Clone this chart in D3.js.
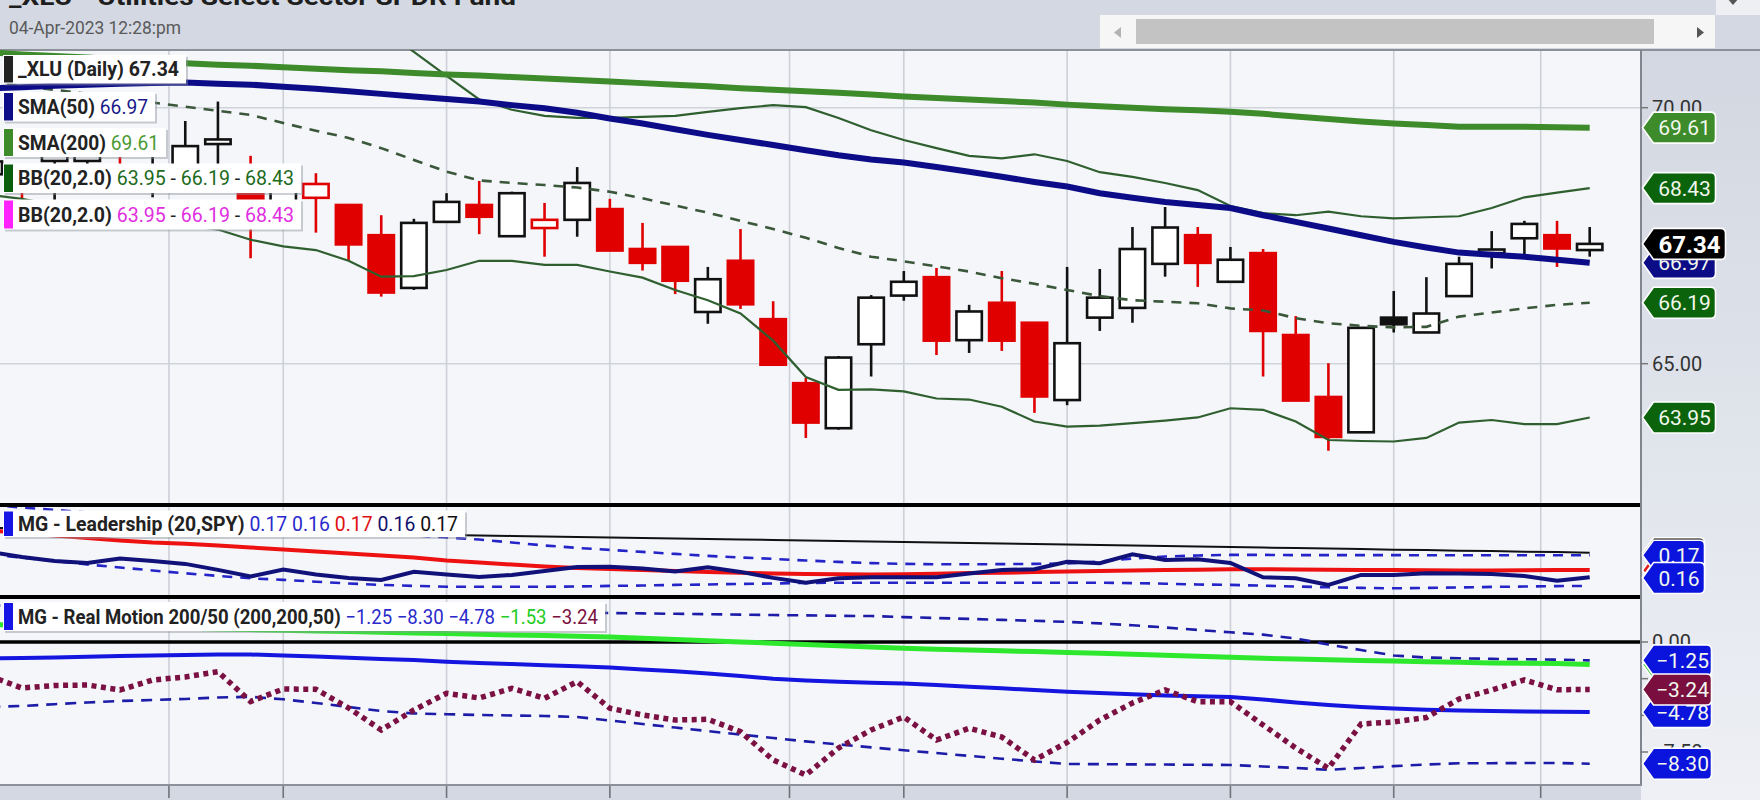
<!DOCTYPE html>
<html><head><meta charset="utf-8">
<script src="https://cdn.jsdelivr.net/npm/d3@7"></script>
<style>html,body{margin:0;padding:0;background:#d3d8e2;overflow:hidden}svg{display:block;font-family:Roboto,"Noto Sans",sans-serif}</style>
</head><body><svg id="chart" width="1760" height="800"></svg>
<script>
// ---------- data ----------
const days = ["2023-01-24","2023-01-25","2023-01-26","2023-01-27","2023-01-30","2023-01-31",
"2023-02-01","2023-02-02","2023-02-03","2023-02-06","2023-02-07","2023-02-08","2023-02-09","2023-02-10",
"2023-02-13","2023-02-14","2023-02-15","2023-02-16","2023-02-17","2023-02-21","2023-02-22","2023-02-23","2023-02-24",
"2023-02-27","2023-02-28","2023-03-01","2023-03-02","2023-03-03","2023-03-06","2023-03-07","2023-03-08","2023-03-09","2023-03-10",
"2023-03-13","2023-03-14","2023-03-15","2023-03-16","2023-03-17","2023-03-20","2023-03-21","2023-03-22","2023-03-23","2023-03-24",
"2023-03-27","2023-03-28","2023-03-29","2023-03-30","2023-03-31","2023-04-03","2023-04-04"];
const openP  = [68.70,68.85,68.96,68.96,68.85,68.45,68.75,69.29,68.55,68.00,68.24,68.10,67.51,66.48,67.77,68.10,67.49,67.65,67.81,68.02,67.24,67.28,66.01,67.01,65.87,64.62,63.74,65.38,66.33,66.69,65.46,66.19,65.80,64.29,65.90,66.09,66.95,67.51,66.60,67.16,65.56,64.35,63.66,65.90,65.61,66.32,67.16,67.45,67.51,67.22];
const highP  = [69.20,68.90,69.60,69.55,69.10,69.05,69.74,70.12,69.06,68.85,68.72,68.12,67.90,67.83,68.33,68.57,68.36,68.14,68.84,68.22,67.75,67.28,66.89,67.63,66.22,64.72,65.15,66.34,66.81,66.87,66.15,66.81,65.80,66.89,66.85,67.67,68.06,67.67,67.28,67.24,65.93,65.01,65.70,66.42,66.69,67.09,67.59,67.79,67.79,67.67];
const lowP   = [68.50,68.22,68.10,68.60,68.40,68.25,68.55,68.85,67.06,67.85,67.56,67.01,66.31,66.44,67.77,67.53,67.49,67.09,67.48,67.21,66.82,66.36,65.78,66.07,64.98,63.55,63.71,64.75,66.23,65.17,65.21,65.25,64.04,64.19,65.64,65.80,66.70,66.50,66.60,64.75,64.28,63.30,63.66,65.61,65.61,66.32,66.86,67.12,66.89,67.09];
const closeP = [68.95,68.55,69.25,69.40,68.45,68.80,69.25,69.38,68.10,68.70,68.51,67.33,66.39,67.75,68.16,67.87,68.33,67.81,68.53,67.21,66.97,66.62,66.65,66.16,64.98,63.85,65.12,66.29,66.60,65.45,66.02,65.45,64.36,65.40,66.29,67.24,67.66,66.97,67.03,65.64,64.28,63.57,65.70,65.77,65.98,66.95,67.23,67.73,67.25,67.34];
const sma50  = [70.38,70.40,70.43,70.45,70.47,70.48,70.49,70.47,70.45,70.41,70.37,70.32,70.27,70.22,70.17,70.12,70.05,69.99,69.90,69.79,69.69,69.58,69.47,69.37,69.27,69.17,69.07,68.99,68.93,68.84,68.75,68.65,68.55,68.46,68.33,68.24,68.16,68.10,68.04,67.90,67.77,67.64,67.51,67.38,67.27,67.17,67.13,67.09,67.03,66.97];
const sma200 = [71.08,71.04,71.01,70.98,70.94,70.91,70.87,70.84,70.82,70.79,70.76,70.73,70.71,70.68,70.65,70.63,70.60,70.57,70.54,70.51,70.48,70.45,70.42,70.38,70.35,70.32,70.29,70.26,70.22,70.19,70.16,70.13,70.10,70.06,70.03,70.00,69.97,69.95,69.92,69.88,69.83,69.78,69.73,69.69,69.66,69.63,69.63,69.63,69.62,69.61];
const bbUpper = [72.70,72.63,72.60,72.54,72.50,72.39,72.33,72.28,72.26,72.20,72.12,71.98,71.55,71.09,70.62,70.16,69.96,69.84,69.80,69.80,69.82,69.84,69.92,69.99,70.05,70.01,69.80,69.56,69.37,69.21,69.06,69.01,69.09,68.96,68.74,68.65,68.53,68.39,68.08,67.94,67.90,67.97,67.88,67.84,67.86,67.88,68.04,68.25,68.34,68.43];
const bbMiddle = [70.50,70.42,70.35,70.27,70.20,70.10,70.02,69.94,69.86,69.70,69.55,69.41,69.21,68.98,68.75,68.58,68.53,68.49,68.44,68.36,68.23,68.09,67.95,67.79,67.63,67.46,67.26,67.09,67.00,66.90,66.80,66.67,66.56,66.44,66.32,66.24,66.21,66.18,66.08,66.04,65.89,65.79,65.74,65.71,65.72,65.92,66.00,66.08,66.15,66.19];
const bbLower = [68.30,68.22,68.10,68.00,67.90,67.81,67.71,67.62,67.42,67.29,67.22,67.01,66.70,66.71,66.83,67.01,67.01,66.93,66.93,66.80,66.68,66.44,66.24,65.98,65.45,64.74,64.49,64.50,64.46,64.32,64.30,64.16,63.87,63.77,63.79,63.84,63.89,63.95,64.13,64.10,63.87,63.51,63.49,63.48,63.55,63.85,63.90,63.82,63.82,63.95];
// MG - Leadership (20,SPY)
const leadLine  = [0.1749,0.1724,0.1704,0.1694,0.1716,0.1704,0.1689,0.1659,0.1626,0.1661,0.1636,0.1619,0.1609,0.1650,0.1636,0.1624,0.1634,0.1654,0.1674,0.1675,0.1666,0.1651,0.1672,0.1649,0.1619,0.1595,0.1617,0.1622,0.1622,0.1622,0.1641,0.1659,0.1662,0.1700,0.1692,0.1737,0.1709,0.1712,0.1694,0.1622,0.1617,0.1584,0.1634,0.1634,0.1642,0.1641,0.1639,0.1629,0.1605,0.1622];
const leadAvg   = [0.1856,0.1844,0.1831,0.1819,0.1806,0.1796,0.1790,0.1781,0.1771,0.1761,0.1751,0.1741,0.1731,0.1721,0.1706,0.1696,0.1686,0.1676,0.1669,0.1664,0.1659,0.1654,0.1649,0.1645,0.1641,0.1639,0.1637,0.1636,0.1637,0.1640,0.1643,0.1645,0.1648,0.1651,0.1654,0.1656,0.1659,0.1660,0.1662,0.1662,0.1661,0.1660,0.1659,0.1658,0.1657,0.1656,0.1656,0.1657,0.1658,0.1658];
const leadUpper = [0.1984,0.1971,0.1959,0.1946,0.1934,0.1924,0.1911,0.1899,0.1889,0.1876,0.1866,0.1854,0.1844,0.1832,0.1821,0.1811,0.1796,0.1781,0.1769,0.1759,0.1749,0.1739,0.1729,0.1721,0.1714,0.1706,0.1699,0.1693,0.1689,0.1687,0.1687,0.1688,0.1689,0.1691,0.1701,0.1716,0.1726,0.1731,0.1734,0.1734,0.1733,0.1733,0.1733,0.1733,0.1732,0.1732,0.1732,0.1732,0.1732,0.1732];
const leadLower = [0.1734,0.1721,0.1704,0.1686,0.1671,0.1656,0.1642,0.1629,0.1617,0.1609,0.1600,0.1591,0.1584,0.1579,0.1575,0.1575,0.1575,0.1575,0.1576,0.1579,0.1581,0.1584,0.1586,0.1589,0.1591,0.1594,0.1595,0.1595,0.1595,0.1595,0.1595,0.1595,0.1595,0.1595,0.1595,0.1593,0.1590,0.1586,0.1584,0.1580,0.1576,0.1572,0.1569,0.1567,0.1569,0.1571,0.1574,0.1576,0.1578,0.1579];
const leadRef   = [0.1869,0.1867,0.1864,0.1862,0.1859,0.1857,0.1854,0.1852,0.1849,0.1847,0.1844,0.1842,0.1839,0.1836,0.1834,0.1831,0.1829,0.1826,0.1824,0.1821,0.1819,0.1816,0.1814,0.1811,0.1809,0.1806,0.1804,0.1801,0.1798,0.1796,0.1793,0.1791,0.1788,0.1786,0.1783,0.1781,0.1778,0.1776,0.1773,0.1771,0.1768,0.1766,0.1763,0.1760,0.1758,0.1755,0.1753,0.1750,0.1748,0.1745];
// MG - Real Motion 200/50
const rmUpper = [2.488,2.454,2.433,2.406,2.379,2.352,2.324,2.297,2.270,2.249,2.222,2.195,2.168,2.140,2.113,2.086,2.059,2.031,2.004,1.977,1.950,1.922,1.895,1.868,1.841,1.813,1.786,1.769,1.697,1.636,1.575,1.506,1.445,1.370,1.270,1.140,0.990,0.820,0.660,0.500,0.240,-0.170,-0.550,-0.920,-1.060,-1.110,-1.150,-1.170,-1.200,-1.25];
const rmLower = [-4.431,-4.363,-4.240,-4.124,-4.022,-3.954,-3.885,-3.783,-3.735,-3.906,-4.158,-4.431,-4.704,-4.874,-4.922,-4.976,-5.010,-5.045,-5.113,-5.351,-5.590,-5.835,-6.074,-6.312,-6.544,-6.776,-6.980,-7.185,-7.382,-7.573,-7.764,-7.955,-8.146,-8.317,-8.330,-8.344,-8.357,-8.371,-8.384,-8.487,-8.589,-8.712,-8.589,-8.466,-8.350,-8.269,-8.262,-8.255,-8.248,-8.30];
const rmMid   = [-1.125,-1.091,-1.050,-1.009,-0.961,-0.920,-0.886,-0.845,-0.852,-0.920,-0.988,-1.070,-1.152,-1.227,-1.343,-1.431,-1.506,-1.581,-1.656,-1.738,-1.875,-1.997,-2.147,-2.318,-2.502,-2.624,-2.713,-2.781,-2.829,-2.931,-3.047,-3.156,-3.272,-3.388,-3.476,-3.565,-3.647,-3.701,-3.749,-3.920,-4.124,-4.295,-4.431,-4.533,-4.615,-4.669,-4.703,-4.738,-4.758,-4.78];
const rmGreen = [1.193,1.159,1.111,1.070,1.023,0.975,0.934,0.886,0.845,0.798,0.750,0.709,0.661,0.614,0.573,0.525,0.477,0.436,0.389,0.341,0.259,0.170,0.082,0.000,-0.082,-0.170,-0.252,-0.341,-0.430,-0.491,-0.545,-0.600,-0.654,-0.709,-0.770,-0.838,-0.907,-0.975,-1.043,-1.111,-1.159,-1.207,-1.254,-1.302,-1.343,-1.384,-1.425,-1.452,-1.472,-1.53];
const rmDot   = [-2.318,-3.136,-2.965,-2.931,-3.272,-2.590,-2.386,-2.025,-4.056,-3.204,-3.224,-4.499,-5.999,-4.635,-3.497,-3.817,-3.156,-3.838,-2.706,-4.519,-4.976,-5.317,-5.269,-6.115,-8.044,-9.066,-7.226,-5.999,-5.112,-6.680,-5.883,-6.476,-8.044,-6.851,-5.317,-4.158,-3.272,-4.070,-4.070,-5.658,-7.226,-8.609,-5.590,-5.453,-5.147,-3.885,-3.272,-2.590,-3.252,-3.24];
const priceTicks = [70, 65];
const rmTicks = [0, -2.5, -5, -7.5];
const weekLines  = ["2023-02-06","2023-02-13","2023-02-21","2023-03-06","2023-03-13","2023-03-20","2023-03-27"];
const monthLines = ["2023-02-01","2023-03-01","2023-04-03"];
const titleText = "_XLU - Utilities Select Sector SPDR Fund";
const dateText = "04-Apr-2023 12:28:pm";

// ---------- layout ----------
const svg = d3.select("#chart");
const PR = 1641, mainTop = 50, mainBot = 505, leadBot = 597, rmBot = 785;
const f2 = d3.format(".2f");
const last = a => a[a.length - 1];
const x = d3.scalePoint().domain(days).range([-10.7, 1589.7]);
const yP = d3.scaleLinear().domain([65, 70]).range([363.7, 107.7]);
const yL = d3.scaleLinear().domain([0.15235, 0.19835]).range([597, 505]);
const yR = d3.scaleLinear().domain([0, -7.5]).range([642, 752]);

const defs = svg.append("defs");
const grad = defs.append("linearGradient").attr("id","axg").attr("x1",0).attr("y1",0).attr("x2",0).attr("y2",1);
grad.append("stop").attr("offset","0").attr("stop-color","#d2d7e1");
grad.append("stop").attr("offset","1").attr("stop-color","#eef0f5");
[["cMain",mainTop,mainBot],["cLead",mainBot,leadBot],["cRm",leadBot,rmBot]].forEach(([id,a,b])=>{
  defs.append("clipPath").attr("id",id).append("rect").attr("x",0).attr("y",a).attr("width",PR).attr("height",b-a);
});

// backgrounds
svg.append("rect").attr("width",1760).attr("height",800).attr("fill","#d3d8e2");
svg.append("rect").attr("x",PR).attr("y",mainTop).attr("width",1760-PR).attr("height",800-mainTop).attr("fill","url(#axg)");
svg.append("rect").attr("x",0).attr("y",mainTop).attr("width",PR).attr("height",rmBot-mainTop).attr("fill","#f4f6fa");

// header
svg.append("text").attr("x",9).attr("y",5).attr("font-size",24).attr("font-weight",700).attr("fill","#1e1e1e")
  .attr("textLength",507).attr("lengthAdjust","spacingAndGlyphs").text(titleText);
svg.append("text").attr("x",9).attr("y",34).attr("font-size",18.5).attr("fill","#5a5a5a")
  .attr("textLength",172).attr("lengthAdjust","spacingAndGlyphs").text(dateText);
svg.append("rect").attr("x",1100).attr("y",15).attr("width",615).attr("height",33).attr("fill","#f6f6f6");
svg.append("rect").attr("x",1136).attr("y",19).attr("width",518).attr("height",25).attr("fill","#c3c3c3");
svg.append("path").attr("d","M1114,32.5 L1121,27 L1121,38 Z").attr("fill","#b3b3b3");
svg.append("path").attr("d","M1697,27 L1704,32.5 L1697,38 Z").attr("fill","#555");
svg.append("rect").attr("x",1716).attr("y",0).attr("width",44).attr("height",15).attr("fill","#eeeff2");
svg.append("path").attr("d","M1727,-2 L1739,-2 L1733,5 Z").attr("fill","#555");
svg.append("line").attr("x1",0).attr("x2",1760).attr("y1",50).attr("y2",50).attr("stroke","#8b9099").attr("stroke-width",2);

// vertical grid + bottom ticks
const gridX = weekLines.map(d=>x(d)).concat(monthLines.map(d=>x(d)-x.step()/2));
svg.append("g").selectAll("line").data(gridX).join("line")
  .attr("x1",d=>d).attr("x2",d=>d).attr("y1",51).attr("y2",rmBot).attr("stroke","#cdd0d6").attr("stroke-width",1.6);
svg.append("g").selectAll("line").data(gridX).join("line")
  .attr("x1",d=>d).attr("x2",d=>d).attr("y1",rmBot).attr("y2",798).attr("stroke","#6f737a").attr("stroke-width",1.6);
// horizontal price grid
svg.append("g").selectAll("line").data(priceTicks).join("line")
  .attr("x1",0).attr("x2",PR).attr("y1",d=>yP(d)).attr("y2",d=>yP(d)).attr("stroke","#d0d3d9").attr("stroke-width",1.6);

// ---------- main panel ----------
const gMain = svg.append("g").attr("clip-path","url(#cMain)");
const idx = d3.range(days.length);
const cw = 28;
const candles = gMain.append("g");
idx.forEach(i=>{
  const o=openP[i], c=closeP[i], h=highP[i], l=lowP[i];
  const prev = i>0 ? closeP[i-1] : o;
  const col = c < prev ? "#e00000" : "#111";
  const hollow = c > o;
  const cx = x(days[i]);
  candles.append("line").attr("x1",cx).attr("x2",cx).attr("y1",yP(h)).attr("y2",yP(l)).attr("stroke",col).attr("stroke-width",2.6);
  const top = yP(Math.max(o,c)), bot = yP(Math.min(o,c));
  if (hollow) {
    candles.append("rect").attr("x",cx-cw/2+1.3).attr("y",top).attr("width",cw-2.6).attr("height",Math.max(bot-top,2))
      .attr("fill","#fff").attr("stroke",col).attr("stroke-width",2.6);
  } else {
    candles.append("rect").attr("x",cx-cw/2).attr("y",top-1.3).attr("width",cw).attr("height",Math.max(bot-top+2.6,4)).attr("fill",col);
  }
});
const lineP = arr => d3.line().x((d,i)=>x(days[i])).y(d=>yP(d))(arr);
gMain.append("path").attr("d",lineP(bbUpper)).attr("fill","none").attr("stroke","#2f5f2f").attr("stroke-width",2.2);
gMain.append("path").attr("d",lineP(bbLower)).attr("fill","none").attr("stroke","#2f5f2f").attr("stroke-width",2.2);
gMain.append("path").attr("d",lineP(bbMiddle)).attr("fill","none").attr("stroke","#3a573a").attr("stroke-width",2.6).attr("stroke-dasharray","10,8");
gMain.append("path").attr("d",lineP(sma200)).attr("fill","none").attr("stroke","#3d8b2a").attr("stroke-width",6);
gMain.append("path").attr("d",lineP(sma50)).attr("fill","none").attr("stroke","#0c0c88").attr("stroke-width",6);

// ---------- leadership panel ----------
const gLead = svg.append("g").attr("clip-path","url(#cLead)");
const lineL = arr => d3.line().x((d,i)=>x(days[i])).y(d=>yL(d))(arr);
gLead.append("path").attr("d",lineL(leadRef)).attr("fill","none").attr("stroke","#111").attr("stroke-width",2);
gLead.append("path").attr("d",lineL(leadUpper)).attr("fill","none").attr("stroke","#2424c8").attr("stroke-width",2.6).attr("stroke-dasharray","10,8");
gLead.append("path").attr("d",lineL(leadLower)).attr("fill","none").attr("stroke","#2424c8").attr("stroke-width",2.6).attr("stroke-dasharray","10,8");
gLead.append("path").attr("d",lineL(leadAvg)).attr("fill","none").attr("stroke","#ee1111").attr("stroke-width",4);
gLead.append("path").attr("d",lineL(leadLine)).attr("fill","none").attr("stroke","#11117a").attr("stroke-width",4);

// ---------- real motion panel ----------
const gRm = svg.append("g").attr("clip-path","url(#cRm)");
const lineR = arr => d3.line().x((d,i)=>x(days[i])).y(d=>yR(d))(arr);
gRm.append("line").attr("x1",0).attr("x2",PR).attr("y1",yR(0)).attr("y2",yR(0)).attr("stroke","#000").attr("stroke-width",3.6);
gRm.append("path").attr("d",lineR(rmUpper)).attr("fill","none").attr("stroke","#1c1ca8").attr("stroke-width",2.6).attr("stroke-dasharray","11,8");
gRm.append("path").attr("d",lineR(rmLower)).attr("fill","none").attr("stroke","#1c1ca8").attr("stroke-width",2.6).attr("stroke-dasharray","11,8");
gRm.append("path").attr("d",lineR(rmGreen)).attr("fill","none").attr("stroke","#2ee82e").attr("stroke-width",5);
gRm.append("path").attr("d",lineR(rmMid)).attr("fill","none").attr("stroke","#1515e0").attr("stroke-width",4);
gRm.append("path").attr("d",lineR(rmDot)).attr("fill","none").attr("stroke","#7b1042").attr("stroke-width",5.5).attr("stroke-dasharray","5,4.5");

// separators & borders
[mainBot, leadBot].forEach(y=>svg.append("line").attr("x1",0).attr("x2",PR).attr("y1",y).attr("y2",y).attr("stroke","#000").attr("stroke-width",4));
svg.append("line").attr("x1",PR).attr("x2",PR).attr("y1",50).attr("y2",rmBot+1).attr("stroke","#80858e").attr("stroke-width",2);
svg.append("line").attr("x1",0).attr("x2",PR).attr("y1",rmBot).attr("y2",rmBot).attr("stroke","#8b9099").attr("stroke-width",2);

// right axis ticks
const tickG = svg.append("g");
priceTicks.forEach(t=>{
  tickG.append("line").attr("x1",PR).attr("x2",PR+7).attr("y1",yP(t)).attr("y2",yP(t)).attr("stroke","#777").attr("stroke-width",1.5);
  tickG.append("text").attr("x",1652).attr("y",yP(t)).attr("dy","0.35em").attr("font-size",20).attr("fill","#333").text(f2(t));
});
rmTicks.forEach(t=>{
  tickG.append("line").attr("x1",PR).attr("x2",PR+7).attr("y1",yR(t)).attr("y2",yR(t)).attr("stroke","#777").attr("stroke-width",1.5);
  tickG.append("text").attr("x",1652).attr("y",yR(t)).attr("dy","0.35em").attr("font-size",20).attr("fill","#333").text(f2(t));
});

// right value tags
function tag(y, fill, text, w, opts={}) {
  const h = opts.h || 31, a = 11, x0 = PR + 1.5;
  const g = svg.append("g");
  g.append("path").attr("d",`M${x0},${y} L${x0+a},${y-h/2} L${x0+w-5},${y-h/2} Q${x0+w},${y-h/2} ${x0+w},${y-h/2+5} L${x0+w},${y+h/2-5} Q${x0+w},${y+h/2} ${x0+w-5},${y+h/2} L${x0+a},${y+h/2} Z`)
    .attr("fill",fill).attr("stroke","#fff").attr("stroke-width",1.6);
  g.append("text").attr("x",x0+a+(w-a)/2).attr("y",y).attr("dy","0.36em").attr("text-anchor","middle")
    .attr("font-size",opts.fs||21).attr("font-weight",opts.bold?700:400).attr("fill",opts.tc||"#f2f7ee").text(text);
}
tag(yP(last(sma200)), "#3d8b2a", f2(last(sma200)), 73);
tag(yP(last(bbUpper)), "#0b640b", f2(last(bbUpper)), 73);
tag(yP(last(bbMiddle)), "#0b640b", f2(last(bbMiddle)), 73);
tag(yP(last(bbLower)), "#0b640b", f2(last(bbLower)), 73);
tag(yP(last(sma50)), "#0c0c86", f2(last(sma50)), 73);
tag(yP(last(closeP)), "#000", f2(last(closeP)), 83, {bold:true, fs:24, tc:"#fff"});

tag(yL(last(leadRef)), "#000", f2(last(leadRef)), 62, {h:30});
tag(yL(last(leadAvg)), "#e21b1b", f2(last(leadAvg)), 62, {h:30});
tag(yL(last(leadLine)), "#10107a", f2(last(leadLine)), 62, {h:30});
tag(yL(last(leadUpper)), "#0a14dc", f2(last(leadUpper)), 62, {h:30});
tag(Math.min(yL(last(leadLower)), leadBot-19), "#0a14dc", f2(last(leadLower)), 62, {h:31});

tag(yR(last(rmGreen)), "#22c422", f2(last(rmGreen)), 69);
tag(yR(last(rmMid)), "#0a14dc", f2(last(rmMid)), 69);
tag(yR(last(rmLower)), "#0a14dc", f2(last(rmLower)), 69);
tag(yR(last(rmUpper)), "#0a14dc", f2(last(rmUpper)), 69);
tag(yR(last(rmDot)), "#7a0f3f", f2(last(rmDot)), 69);

// ---------- legends ----------
function legend(y0, h, bar, parts, tw) {
  const g = svg.append("g");
  const boxW = 18 + tw + 7 - 3;
  g.append("rect").attr("x",5).attr("y",y0+2).attr("width",boxW).attr("height",h).attr("fill","#8e949e").attr("opacity",0.45);
  g.append("rect").attr("x",3).attr("y",y0).attr("width",boxW).attr("height",h).attr("fill","#fff");
  g.append("rect").attr("x",4).attr("y",y0+1).attr("width",9).attr("height",h-2).attr("fill",bar);
  const t = g.append("text").attr("x",18).attr("y",y0+h/2+7).attr("font-size",20).attr("style","white-space:pre")
    .attr("textLength",tw).attr("lengthAdjust","spacingAndGlyphs");
  parts.forEach(p=>t.append("tspan").attr("fill",p[1]).attr("font-weight",p[2]?700:400).text(p[0]));
}
const D = "#222";
legend(55, 28.5, "#222", [["_XLU (Daily) " + f2(last(closeP)), D, true]], 161);
legend(92, 29.5, "#0c0c86", [["SMA(50) ", D, true], [f2(last(sma50)), "#1a1a8a"]], 130);
legend(128, 29, "#3d8b2a", [["SMA(200) ", D, true], [f2(last(sma200)), "#4a9a33"]], 141);
const bbParts = c => [["BB(20,2.0) ", D, true], [f2(last(bbLower)), c], [" - ", D], [f2(last(bbMiddle)), c], [" - ", D], [f2(last(bbUpper)), c]];
legend(163.5, 29.5, "#0b5e0b", bbParts("#1d6b1d"), 276);
legend(199.5, 30, "#ff22ff", bbParts("#e02ee0"), 276);
legend(510.5, 26.5, "#1515e6", [["MG - Leadership (20,SPY) ", D, true], [f2(last(leadUpper))+" ", "#2a2acc"], [f2(last(leadLower))+" ", "#2a2acc"],
  [f2(last(leadAvg))+" ", "#e01010"], [f2(last(leadLine))+" ", "#10106e"], [f2(last(leadRef)), "#111"]], 440);
legend(602, 29, "#1515e6", [["MG - Real Motion 200/50 (200,200,50) ", D, true], [f2(last(rmUpper))+" ", "#2a2acc"], [f2(last(rmLower))+" ", "#2a2acc"],
  [f2(last(rmMid))+" ", "#2a2acc"], [f2(last(rmGreen))+" ", "#22cc22"], [f2(last(rmDot)), "#7b1042"]], 580);
</script></body></html>
